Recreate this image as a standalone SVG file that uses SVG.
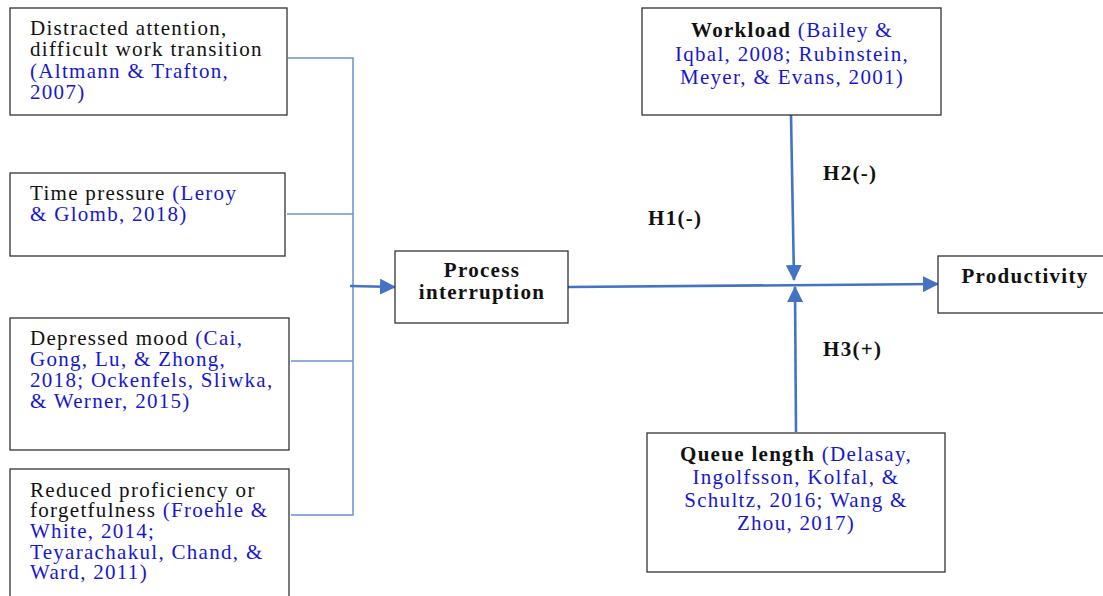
<svg xmlns="http://www.w3.org/2000/svg" width="1103" height="596" viewBox="0 0 1103 596">
<defs>
<style>
.box{fill:#fff;stroke:#333;stroke-width:1.3}
.t{font-family:'Liberation Serif',serif;font-size:21px;fill:#111;letter-spacing:1.3px}
.b{font-weight:bold}
.c{fill:#1717D2}
.thin{fill:none;stroke:#6E8FD2;stroke-width:1.5}
.thick{fill:none;stroke:#4472C4;stroke-width:2.6}
</style>
<marker id="ah2" markerWidth="16" markerHeight="16" refX="15" refY="8" orient="auto" markerUnits="userSpaceOnUse" viewBox="0 0 16 16">
<path d="M0,0 L16,8 L0,16 Z" fill="#4472C4"/>
</marker>
</defs>
<rect width="1103" height="596" fill="#fff"/>
<g id="connectors">
<path class="thin" d="M288,58 H353 V515 H291"/>
<path class="thin" d="M287,214 H353"/>
<path class="thin" d="M291,361 H353"/>
<path class="thick" d="M350,286 L395,287" marker-end="url(#ah2)"/>
<path class="thick" d="M568,287 L938,284" marker-end="url(#ah2)"/>
<path class="thick" d="M791,115 L794,280" marker-end="url(#ah2)"/>
<path class="thick" d="M796,432 L795,287" marker-end="url(#ah2)"/>
</g>
<g id="n1" font-family="Liberation Serif">
<rect class="box" x="10" y="8" width="277" height="107"/>
<text class="t"><tspan x="30" y="35">Distracted attention,</tspan><tspan x="30" y="56">difficult work transition</tspan><tspan x="30" y="78" class="c">(Altmann &amp; Trafton,</tspan><tspan x="30" y="99" class="c">2007)</tspan></text>
</g>
<g id="n2" font-family="Liberation Serif">
<rect class="box" x="10" y="173" width="275" height="83"/>
<text class="t"><tspan x="30" y="200">Time pressure <tspan class="c">(Leroy</tspan></tspan><tspan x="30" y="221" class="c">&amp; Glomb, 2018)</tspan></text>
</g>
<g id="n3" font-family="Liberation Serif">
<rect class="box" x="10" y="318" width="279" height="132"/>
<text class="t"><tspan x="30" y="345">Depressed mood <tspan class="c">(Cai,</tspan></tspan><tspan x="30" y="366" class="c">Gong, Lu, &amp; Zhong,</tspan><tspan x="30" y="387" class="c">2018; Ockenfels, Sliwka,</tspan><tspan x="30" y="408" class="c">&amp; Werner, 2015)</tspan></text>
</g>
<g id="n4" font-family="Liberation Serif">
<rect class="box" x="10" y="469" width="279" height="140"/>
<text class="t"><tspan x="30" y="497">Reduced proficiency or</tspan><tspan x="30" y="517">forgetfulness <tspan class="c">(Froehle &amp;</tspan></tspan><tspan x="30" y="538" class="c">White, 2014;</tspan><tspan x="30" y="559" class="c">Teyarachakul, Chand, &amp;</tspan><tspan x="30" y="579" class="c">Ward, 2011)</tspan></text>
</g>
<g id="n5" font-family="Liberation Serif">
<rect class="box" x="395" y="251" width="173" height="72"/>
<text class="t b" text-anchor="middle"><tspan x="482" y="277">Process</tspan><tspan x="482" y="299">interruption</tspan></text>
</g>
<g id="n6" font-family="Liberation Serif">
<rect class="box" x="938" y="256" width="170" height="57"/>
<text class="t b" x="1025" y="283" text-anchor="middle">Productivity</text>
</g>
<g id="n7" font-family="Liberation Serif">
<rect class="box" x="642" y="8" width="299" height="107"/>
<text class="t" text-anchor="middle"><tspan x="792" y="37"><tspan class="b">Workload</tspan> <tspan class="c">(Bailey &amp;</tspan></tspan><tspan x="792" y="61" class="c">Iqbal, 2008; Rubinstein,</tspan><tspan x="792" y="84" class="c">Meyer, &amp; Evans, 2001)</tspan></text>
</g>
<g id="n8" font-family="Liberation Serif">
<rect class="box" x="647" y="433" width="298" height="139"/>
<text class="t" text-anchor="middle"><tspan x="796" y="461"><tspan class="b">Queue length</tspan> <tspan class="c">(Delasay,</tspan></tspan><tspan x="796" y="484" class="c">Ingolfsson, Kolfal, &amp;</tspan><tspan x="796" y="507" class="c">Schultz, 2016; Wang &amp;</tspan><tspan x="796" y="530" class="c">Zhou, 2017)</tspan></text>
</g>
<g id="labels" font-family="Liberation Serif">
<text class="t b" x="648" y="225">H1(-)</text>
<text class="t b" x="823" y="180">H2(-)</text>
<text class="t b" x="823" y="356">H3(+)</text>
</g>
</svg>
